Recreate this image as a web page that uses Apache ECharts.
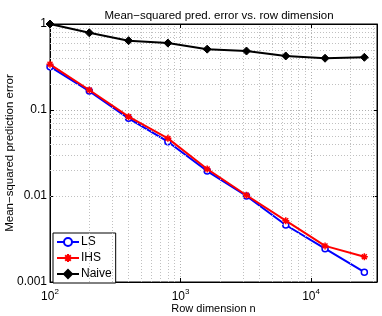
<!DOCTYPE html>
<html><head><meta charset="utf-8">
<script src="https://cdn.jsdelivr.net/npm/echarts@6/dist/echarts.min.js"></script>
<style>html,body{margin:0;padding:0;background:#fff}#c{width:382px;height:316px}</style>
</head><body><div id="c"></div>
<script>
const rowDims = [100, 200, 400, 800, 1600, 3200, 6400, 12800, 25600];
const lsErr = [0.319, 0.166, 0.080, 0.0428, 0.0195, 0.0100, 0.0046, 0.00244, 0.0013];
const ihsErr = [0.34, 0.171, 0.0836, 0.0468, 0.0206, 0.0102, 0.00516, 0.00263, 0.00197];
const naiveErr = [1.0, 0.79, 0.64, 0.60, 0.51, 0.485, 0.425, 0.40, 0.41];
const xMinorGrid = [200,300,400,500,600,700,800,900,2000,3000,4000,5000,6000,7000,8000,9000,20000,30000];
const yMinorGrid = [0.002,0.003,0.004,0.005,0.006,0.007,0.008,0.009,0.02,0.03,0.04,0.05,0.06,0.07,0.08,0.09,0.2,0.3,0.4,0.5,0.6,0.7,0.8,0.9];
const seriesNames = ['LS', 'IHS', 'Naive'];
const titleText = 'Mean\u2212squared pred. error vs. row dimension';
const xName = 'Row dimension n';
const yName = 'Mean\u2212squared prediction error';

const FONT = 'Liberation Sans, Arial, Helvetica, sans-serif';
const chart = echarts.init(document.getElementById('c'), null, {renderer: 'canvas'});
const pair = (xs, ys) => xs.map((x, i) => [x, ys[i]]);
const gridLine = {color: '#b0b0b0', type: [1, 2], width: 1};
const axisBase = {
  type: 'log', logBase: 10,
  axisLine: {show: true, lineStyle: {color: '#000', width: 1}},
  axisTick: {show: true, inside: true, length: 4, lineStyle: {color: '#000'}},
};
const option = {
  animation: false,
  backgroundColor: '#fff',
  title: {text: titleText, left: 214, textAlign: 'center', top: 5,
    textStyle: {fontFamily: FONT, fontSize: 11.5, fontWeight: 'normal', color: '#000'}},
  grid: {left: 50, right: 5, top: 24, bottom: 34, show: true, borderColor: '#000', borderWidth: 1,
    containLabel: false, outerBoundsMode: 'none'},
  legend: {
    orient: 'vertical', left: 53, top: 233,
    data: seriesNames,
    backgroundColor: '#fff', borderColor: '#000', borderWidth: 1,
    padding: [3, 4, 3, 3], itemGap: 4, itemWidth: 22, itemHeight: 10,
    textStyle: {fontFamily: FONT, fontSize: 12, color: '#000', padding: [0,0,0,-3]}
  },
  xAxis: [
    Object.assign({}, axisBase, {
      min: 100, max: 32000, interval: 1, position: 'bottom',
      name: xName, nameLocation: 'middle', nameGap: 21, nameMoveOverlap: false,
      nameTextStyle: {fontFamily: FONT, fontSize: 11, color: '#000'},
      splitLine: {show: true, lineStyle: gridLine},
      axisLabel: {
        showMaxLabel: false, margin: 6, color: '#000', fontFamily: FONT,
        formatter: v => { const e = Math.round(Math.log10(v)); return '{b|10}{s|' + e + '}'; },
        rich: {b: {fontSize: 12, fontFamily: FONT, color: '#000'},
               s: {fontSize: 8, fontFamily: FONT, color: '#000', padding: [0, 0, 10, 0]}}
      }
    }),
    Object.assign({}, axisBase, {
      min: 100, max: 32000, interval: 1, position: 'top',
      axisLabel: {show: false}, splitLine: {show: false}
    })
  ],
  yAxis: [
    Object.assign({}, axisBase, {
      min: 0.001, max: 1, interval: 1, position: 'left',
      name: yName, nameLocation: 'middle', nameGap: 34, nameMoveOverlap: false,
      nameTextStyle: {fontFamily: FONT, fontSize: 11.5, color: '#000'},
      splitLine: {show: true, lineStyle: gridLine},
      axisLabel: {
        margin: 3, color: '#000', fontFamily: FONT, fontSize: 12,
        formatter: v => { const e = Math.round(Math.log10(v)); return e >= 0 ? '1' : '0.' + '0'.repeat(-e - 1) + '1'; }
      }
    }),
    Object.assign({}, axisBase, {
      min: 0.001, max: 1, interval: 1, position: 'right',
      axisLabel: {show: false}, splitLine: {show: false}
    })
  ],
  series: [
    {
      name: '_grid', type: 'line', data: [], silent: true,
      markLine: {
        silent: true, symbol: ['none', 'none'], animation: false,
        label: {show: false},
        lineStyle: {color: '#c0c0c0', type: [1, 2], width: 1},
        data: xMinorGrid.map(v => ({xAxis: v})).concat(yMinorGrid.map(v => ({yAxis: v})))
      }
    },
    {
      name: 'LS', type: 'line', data: pair(rowDims, lsErr), z: 4,
      lineStyle: {color: '#0000ff', width: 2},
      itemStyle: {color: '#fff', borderColor: '#0000ff', borderWidth: 1.5},
      symbol: 'circle', symbolSize: 6, showAllSymbol: true
    },
    {
      name: 'IHS', type: 'line', data: pair(rowDims, ihsErr), z: 5,
      lineStyle: {color: '#ff0000', width: 2},
      itemStyle: {color: '#ff0000', borderColor: '#ff0000', borderWidth: 1.5},
      symbol: 'path://M5,0L5,10M0,5L10,5M1.5,1.5L8.5,8.5M8.5,1.5L1.5,8.5', symbolSize: 7, showAllSymbol: true
    },
    {
      name: 'Naive', type: 'line', data: pair(rowDims, naiveErr), z: 6,
      lineStyle: {color: '#000', width: 2},
      itemStyle: {color: '#000', borderColor: '#000', borderWidth: 1},
      symbol: 'diamond', symbolSize: 8, showAllSymbol: true
    }
  ]
};
chart.setOption(option);
</script></body></html>
